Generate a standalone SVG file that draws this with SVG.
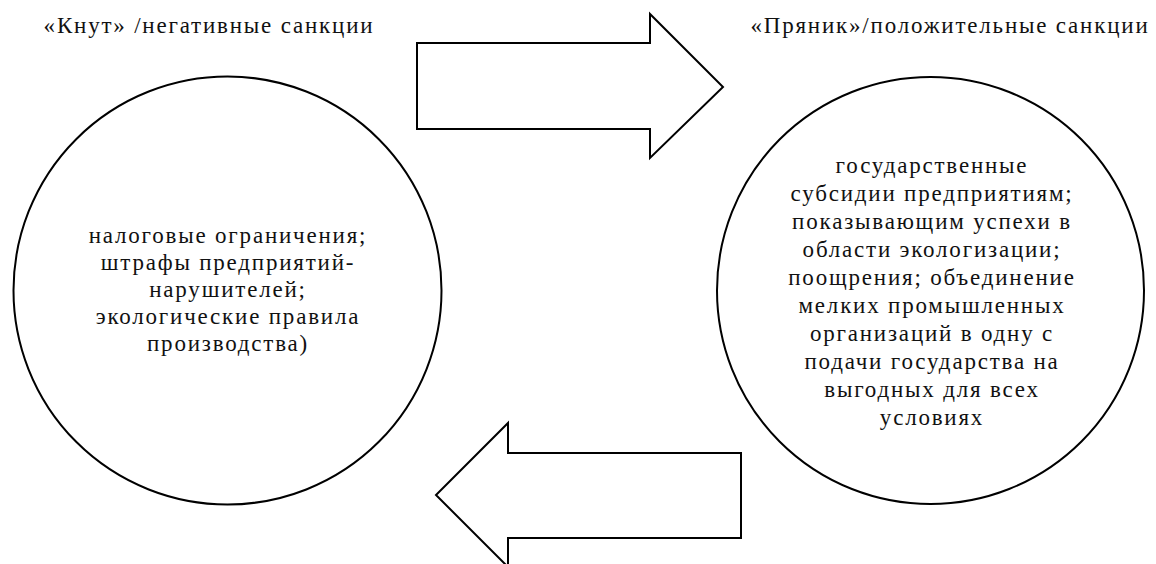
<svg xmlns="http://www.w3.org/2000/svg" width="1156" height="564" viewBox="0 0 1156 564">
<style>
.t{font-family:'Liberation Serif','DejaVu Serif',serif;font-size:23px;letter-spacing:1.8px;fill:#111;text-anchor:middle}
.shape{fill:#fff;stroke:#000;stroke-width:2}
</style>
<rect width="1156" height="564" fill="#fff"/>
<g id="title-left"><text class="t" x="209" y="33">«Кнут» /негативные санкции</text></g>
<g id="title-right"><text class="t" x="950" y="33">«Пряник»/положительные санкции</text></g>
<g id="connectors">
<polygon class="shape" points="417,43 650,43 650,14 723,87 650,158 650,129 417,129"/>
<polygon class="shape" points="741,453 508,453 508,423 436,495 508,567 508,538 741,538"/>
</g>
<g id="node-knut">
<circle class="shape" cx="227.5" cy="290.5" r="214"/>
<text class="t" x="228" y="243">налоговые ограничения;</text>
<text class="t" x="228" y="270">штрафы предприятий-</text>
<text class="t" x="228" y="297">нарушителей;</text>
<text class="t" x="228" y="324">экологические правила</text>
<text class="t" x="228" y="351">производства)</text>
</g>
<g id="node-pryanik">
<circle class="shape" cx="930.5" cy="290.5" r="213.5"/>
<text class="t" x="932" y="173">государственные</text>
<text class="t" x="932" y="201">субсидии предприятиям;</text>
<text class="t" x="932" y="229">показывающим успехи в</text>
<text class="t" x="932" y="257">области экологизации;</text>
<text class="t" x="932" y="285">поощрения; объединение</text>
<text class="t" x="932" y="313">мелких промышленных</text>
<text class="t" x="932" y="341">организаций в одну с</text>
<text class="t" x="932" y="369">подачи государства на</text>
<text class="t" x="932" y="397">выгодных для всех</text>
<text class="t" x="932" y="425">условиях</text>
</g>
</svg>
